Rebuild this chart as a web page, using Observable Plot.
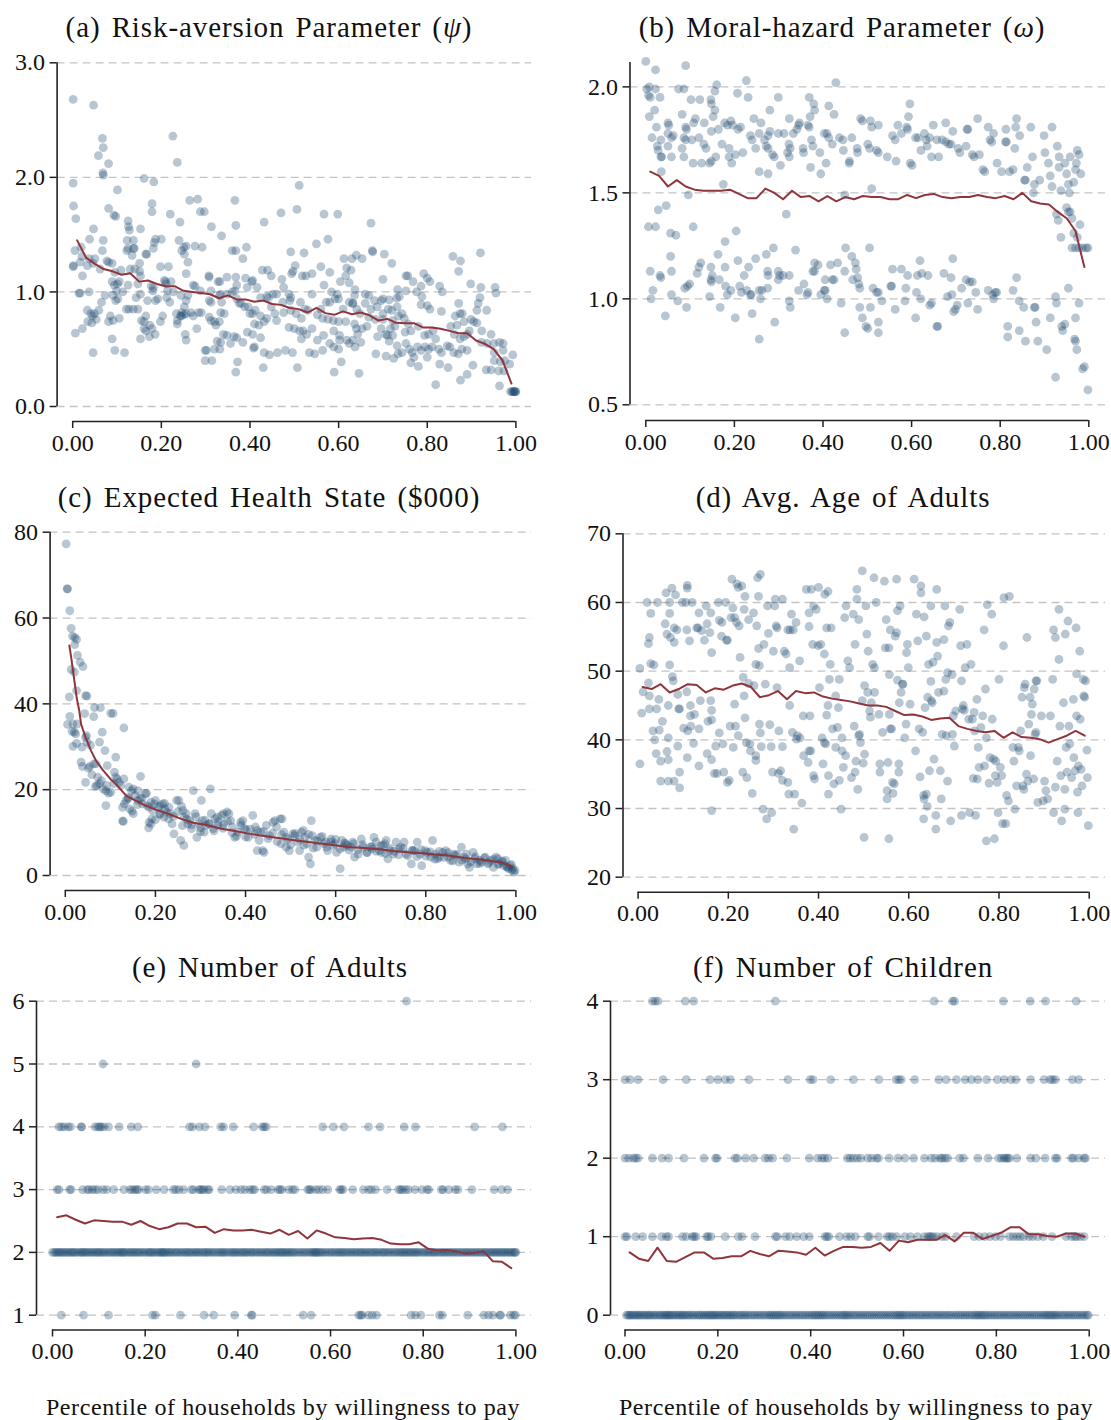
<!DOCTYPE html>
<html><head><meta charset="utf-8">
<script src="https://cdn.jsdelivr.net/npm/d3@7"></script>
<script src="https://cdn.jsdelivr.net/npm/@observablehq/plot@0.6"></script>
<style>
body{margin:0;background:#fff;}
#page{position:relative;width:1111px;height:1420px;font-family:"Liberation Serif",serif;color:#111;}
#page svg, #page svg text{font-family:"Liberation Serif",serif !important;}
.title{position:absolute;font-size:29px;letter-spacing:0.9px;word-spacing:3px;transform:translate(-50%,-50%);white-space:nowrap;}
.xlab{position:absolute;font-size:24px;letter-spacing:0.6px;transform:translate(-50%,-50%);white-space:nowrap;}
</style></head>
<body><div id="page"></div>
<script>
// ---------- DATA ----------
const xTicks = [0, 0.2, 0.4, 0.6, 0.8, 1];
const binX = [.01,.03,.05,.07,.09,.11,.13,.15,.17,.19,.21,.23,.25,.27,.29,.31,.33,.35,.37,.39,.41,.43,.45,.47,.49,.51,.53,.55,.57,.59,.61,.63,.65,.67,.69,.71,.73,.75,.77,.79,.81,.83,.85,.87,.89,.91,.93,.95,.97,.99];

// (a) risk aversion
const riskLine = [1.45,1.30,1.245,1.20,1.18,1.15,1.163,1.09,1.10,1.07,1.05,1.05,1.01,1.0,0.99,0.98,0.945,0.97,0.935,0.935,0.915,0.925,0.895,0.887,0.86,0.85,0.82,0.86,0.815,0.80,0.83,0.805,0.82,0.795,0.75,0.765,0.73,0.727,0.727,0.69,0.69,0.678,0.66,0.64,0.64,0.576,0.547,0.50,0.40,0.20];
const riskPts = [[.001,2.68],[.047,2.63],[.067,2.34],[.069,2.26],[.058,2.19],[.081,2.12],[.068,2.04],[.069,2.02],[.001,1.95],[.161,1.99],[.183,1.96],[.226,2.36],[.236,2.13],[.101,1.89],[.002,1.75],[.007,1.64],[.081,1.73],[.093,1.67],[.097,1.66],[.179,1.77],[.179,1.70],[.264,1.80],[.282,1.81],[.288,1.70],[.297,1.70],[.22,1.68],[.242,1.61],[.313,1.57],[.336,1.49],[.366,1.80],[.368,1.58],[.432,1.61],[.47,1.69],[.506,1.72],[.511,1.93],[.567,1.68],[.598,1.68],[.673,1.60],[.858,1.31],[.875,1.27],[.871,1.18],[.92,1.34],[.898,1.07],[.921,1.04],[.953,1.04],[.955,.99],[.919,.95],[.915,.90],[.912,.84],[.934,.84],[.899,.76],[.905,.74],[.912,.73],[.923,.66],[.895,.66],[.944,.63],[.922,.56],[.935,.55],[.95,.55],[.963,.56],[.971,.55],[.951,.47],[.971,.49],[.993,.45],[.951,.40],[.965,.39],[.975,.40],[.986,.37],[.961,.31],[.973,.31],[.963,.18],[.933,.32],[.944,.32],[.903,.36],[.89,.28],[.875,.23],[.819,.19],[.847,.34],[.828,.37],[.832,.47],[.845,.53],[.851,.52],[.86,.47],[.87,.46],[.878,.50],[.89,.49],[.874,.59],[.883,.61],[.861,.63],[.89,.63],[.853,.70],[.867,.71],[.883,.74],[.863,.79],[.874,.81],[.879,.81],[.871,.90],[.832,.83],[.828,1.05],[.834,1.0],[.806,1.09],[.8,1.12],[.792,1.16],[.786,1.05],[.768,1.09],[.752,1.14],[.756,1.14],[.776,1.0],[.788,.96],[.786,.89],[.8,.88],[.806,.85],[.752,1.01],[.733,1.02],[.737,.96],[.714,.93],[.696,.925],[.70,1.11],[.72,1.25],[.703,1.33],[.676,1.36],[.677,1.35],[.653,1.29],[.64,1.32],[.612,1.29],[.63,1.29],[.618,1.21],[.628,1.19],[.632,.90],[.641,.85],[.66,.90],[.673,.85],[.668,.78],[.683,.76],[.648,.81],[.636,.72],[.653,.68],[.643,.63],[.65,.56],[.632,.58],[.618,.58],[.602,.58],[.602,.62],[.589,.66],[.589,.52],[.6,.50],[.606,.39],[.59,.30],[.646,.29],[.664,.70],[.684,.46],[.707,.44],[.714,.57],[.722,.62],[.71,.62],[.717,.68],[.727,.70],[.722,.75],[.735,.79],[.743,.81],[.748,.77],[.732,.53],[.734,.46],[.724,.42],[.743,.47],[.752,.55],[.76,.50],[.766,.47],[.77,.43],[.78,.35],[.763,.38],[.778,.52],[.786,.49],[.795,.52],[.803,.50],[.803,.63],[.813,.66],[.819,.59],[.794,.62],[.78,.70],[.763,.66],[.75,.65],[.757,.72],[.8,.43],[.826,.50],[.811,.52],
[.54,.98],[.514,.91],[.524,.85],[.531,.84],[.504,.81],[.516,.77],[.492,.84],[.49,.925],[.474,.91],[.476,.82],[.488,.69],[.5,.68],[.512,.66],[.52,.66],[.528,.63],[.54,.68],[.552,.58],[.566,.62],[.516,.59],[.534,.47],[.507,.34],[.496,.47],[.48,.49],[.462,.47],[.444,.45],[.43,.34],[.432,.47],[.41,.52],[.408,.51],[.424,.60],[.406,.63],[.394,.65],[.384,.56],[.37,.60],[.364,.61],[.372,.39],[.368,.30],[.348,.62],[.356,.55],[.334,.56],[.32,.50],[.332,.50],[.299,.49],[.299,.40],[.314,.40],[.326,.57],[.34,.63],[.323,.71],[.331,.74],[.334,.82],[.342,.81],[.336,.91],[.312,.91],[.331,.97],[.334,.98],[.348,.98],[.328,1.09],[.332,1.09],[.348,1.13],[.36,1.0],[.366,1.01],[.37,.94],[.376,.90],[.38,.90],[.388,.87],[.396,.87],[.4,.81],[.406,.81],[.412,.84],[.424,.79],[.438,.77],[.432,.74],[.42,.71],[.41,.72],[.456,.81],[.46,.75],[.448,.87],[.442,.95],[.438,.96],[.452,.98],[.424,.95],[.416,1.04],[.404,1.09],[.406,1.10],[.394,1.04],[.39,1.12],[.37,1.06],[.368,1.13],[.384,1.29],[.392,1.39],[.368,1.36],[.36,1.36],[.428,1.19],[.44,1.19],[.448,1.14],[.46,.98],[.476,1.04],[.488,.98],[.492,.95],[.472,1.11],[.494,1.16],[.497,1.18],[.502,1.23],[.492,1.35],[.522,1.34],[.518,1.14],[.526,1.14],[.54,1.16],[.55,1.42],[.576,1.46],[.56,1.22],[.58,1.17],[.567,1.06],[.584,1.0],[.592,.94],[.6,.94],[.572,.91],[.58,.91],[.56,.85],[.552,.80],[.564,.77],[.576,.76],[.588,.75],[.6,.74],[.61,.85],[.624,.91],[.632,.90],[.636,.97],[.637,1.02],[.624,1.08],[.597,.98],[.604,1.09],[.616,1.14],[.66,.98],[.668,.97],[.681,.925],[.687,.87],[.70,.94],[.712,.85],[.72,.84],[.732,.87],[.731,.945],[.70,.81],[.70,.76],[.696,.68],[.688,.61],[.706,.63],[.64,.68],[.616,.74],[.624,.55],[.637,.52],[.564,.49],[.58,.55],[.546,.46],
[.001,1.22],[.002,1.23],[.006,.64],[.005,1.36],[.017,1.26],[.021,1.31],[.022,1.14],[.019,1.39],[.033,1.23],[.037,1.29],[.038,1.46],[.047,1.55],[.046,1.25],[.05,1.29],[.022,.68],[.014,.99],[.017,.99],[.037,1.0],[.033,.84],[.041,.81],[.045,.79],[.049,.81],[.034,.74],[.043,.73],[.053,.76],[.046,.47],[.059,.84],[.065,.91],[.073,.97],[.062,1.20],[.067,1.36],[.069,1.45],[.077,1.27],[.081,1.26],[.089,1.25],[.095,1.17],[.089,1.09],[.094,1.06],[.101,1.07],[.099,1.01],[.091,.97],[.097,.925],[.102,.94],[.085,.79],[.081,.74],[.091,.75],[.105,.77],[.089,.59],[.095,.49],[.117,.47],[.113,1.0],[.105,1.09],[.109,1.19],[.122,1.36],[.125,1.38],[.123,1.45],[.125,1.62],[.126,1.57],[.128,1.54],[.137,1.45],[.137,1.38],[.139,1.38],[.134,1.32],[.13,1.20],[.14,1.20],[.125,1.06],[.121,.85],[.127,.85],[.137,.85],[.143,.95],[.147,.85],[.147,1.07],[.151,1.18],[.153,1.14],[.151,1.25],[.153,1.55],[.153,.98],[.155,.75],[.161,.74],[.153,.59],[.161,.68],[.165,.66],[.165,1.33],[.167,1.33],[.165,.79],[.173,.61],[.174,.71],[.169,.925],[.177,1.05],[.182,1.04],[.181,1.01],[.187,.925],[.192,.94],[.179,.68],[.186,.63],[.187,1.46],[.182,1.38],[.184,1.43],[.198,1.22],[.2,1.46],[.198,.74],[.203,.79],[.207,1.10],[.209,1.09],[.211,1.07],[.214,1.01],[.216,1.22],[.219,.91],[.212,.95],[.222,1.09],[.227,1.0],[.234,.81],[.236,.75],[.236,.72],[.24,1.45],[.246,1.36],[.251,1.39],[.256,1.40],[.252,1.33],[.244,.97],[.246,.82],[.243,.79],[.245,.79],[.251,.80],[.256,.81],[.256,.925],[.26,.97],[.252,.87],[.254,.63],[.256,.58],[.256,1.16],[.26,1.26],[.272,1.06],[.276,1.05],[.267,.82],[.272,.79],[.28,.68],[.284,.82],[.29,.82],[.288,1.01],[.276,1.40],[.292,1.39],[.307,1.14],[.308,1.13],[.312,1.01],[.308,.925],[.312,.75],[.32,.74],[.308,.78],[.302,.49],
[.988,.13],[.991,.13],[.994,.13],[.997,.13],[1,.13],[.999,.13],[.996,.13]];

// (b) moral hazard
const hazardLine = [1.60,1.58,1.53,1.56,1.53,1.515,1.51,1.51,1.51,1.515,1.495,1.475,1.475,1.52,1.50,1.47,1.51,1.48,1.485,1.46,1.485,1.46,1.48,1.47,1.485,1.48,1.48,1.47,1.47,1.49,1.475,1.49,1.495,1.48,1.475,1.48,1.48,1.49,1.48,1.475,1.485,1.47,1.50,1.46,1.45,1.445,1.41,1.38,1.32,1.15];
const hazardPts = [[0,2.12],[.002,1.99],[.006,1.96],[.008,2.0],[.022,2.08],[.022,1.99],[.01,1.95],[.032,1.95],[.02,1.89],[.008,1.86],[.014,1.76],[.024,1.81],[.026,1.72],[.028,1.70],[.034,1.75],[.034,1.67],[.036,1.67],[.035,1.60],[.05,1.83],[.052,1.82],[.05,1.78],[.05,1.72],[.058,1.76],[.062,1.77],[.058,1.67],[.074,1.99],[.086,1.99],[.09,2.10],[.082,1.87],[.09,1.81],[.092,1.80],[.086,1.76],[.09,1.75],[.082,1.71],[.086,1.67],[.102,1.94],[.108,1.83],[.112,1.85],[.104,1.75],[.107,1.64],[.122,1.94],[.12,1.76],[.126,1.64],[.131,1.73],[.136,1.71],[.132,1.83],[.147,1.94],[.148,1.92],[.152,1.86],[.156,1.89],[.16,2.01],[.156,1.98],[.148,1.79],[.144,1.64],[.148,1.65],[.158,1.67],[.164,1.80],[.172,1.73],[.178,1.83],[.184,1.82],[.192,1.84],[.196,1.82],[.188,1.71],[.188,1.67],[.194,1.64],[.202,1.68],[.207,1.97],[.208,1.80],[.214,1.81],[.219,1.69],[.227,2.03],[.231,1.95],[.236,1.77],[.24,1.75],[.244,1.85],[.248,1.71],[.256,1.78],[.256,1.60],[.26,1.83],[.268,1.75],[.272,1.72],[.276,1.59],[.28,1.89],[.276,1.77],[.28,1.79],[.276,1.71],[.286,1.68],[.29,1.67],[.299,1.95],[.299,1.78],[.304,1.63],[.312,1.78],[.32,1.69],[.324,1.67],[.323,1.73],[.326,1.71],[.324,1.85],[.333,1.78],[.341,1.80],[.345,1.82],[.347,1.83],[.355,1.71],[.356,1.69],[.366,1.82],[.369,1.81],[.369,1.95],[.371,1.86],[.374,1.75],[.377,1.72],[.379,1.92],[.381,1.89],[.372,1.62],[.393,1.69],[.395,1.59],[.403,1.78],[.409,1.78],[.407,1.64],[.413,1.76],[.413,1.91],[.421,1.73],[.429,2.02],[.425,1.87],[.437,1.76],[.445,1.75],[.446,1.70],[.459,1.64],[.46,1.65],[.465,1.76],[.477,1.71],[.478,1.69],[.485,1.85],[.489,1.84],[.501,1.73],[.505,1.71],[.507,1.84],[.51,1.81],[.521,1.70],[.525,1.69],[.525,1.82],[.545,1.67],[.557,1.77],[.563,1.75],[.569,1.82],[.565,1.65],[.577,1.78],[.589,1.81],[.591,1.80],[.593,1.86],[.596,1.92],[.597,1.64],[.601,1.63],[.609,1.76],[.615,1.76],[.621,1.70],[.629,1.78],[.633,1.75],[.635,1.72],[.641,1.76],[.649,1.82],[.645,1.67],[.657,1.75],[.661,1.67],[.669,1.75],[.677,1.74],[.677,1.83],[.684,1.73],[.689,1.73],[.693,1.79],[.705,1.71],[.709,1.69],[.723,1.72],[.725,1.80],[.727,1.80],[.737,1.68],[.741,1.67],[.749,1.85],[.753,1.68],[.761,1.61],[.765,1.60],[.773,1.81],[.777,1.75],[.781,1.74],[.785,1.78],[.793,1.64],[.803,1.60],[.813,1.80],[.812,1.74],[.814,1.74],[.821,1.60],[.829,1.61],[.837,1.85],[.835,1.81],[.833,1.71],[.844,1.77],[.855,1.56],[.857,1.56],[.861,1.62],[.869,1.81],[.873,1.67],[.877,1.54],[.875,1.50],[.889,1.56],[.901,1.69],[.899,1.77],[.913,1.58],[.917,1.53],[.909,1.64],[.917,1.81],[.929,1.72],[.933,1.67],[.933,1.62],[.937,1.51],[.946,1.64],[.95,1.59],[.954,1.54],[.956,1.50],[.958,1.67],[.966,1.55],[.97,1.61],[.972,1.64],[.974,1.70],[.978,1.68],[.982,1.59],
[.927,1.40],[.931,1.37],[.937,1.29],[.95,1.43],[.954,1.41],[.958,1.41],[.962,1.38],[.966,1.31],[.974,1.29],[.98,1.35],[.962,1.24],[.97,1.24],[.978,1.24],[.986,1.24],[.994,1.24],[.998,1.24],
[.317,1.40],[.175,1.54],[.046,1.44],[.028,1.42],[.096,1.49],[.006,1.34],[.022,1.34],[.056,1.31],[.068,1.30],[.107,1.34],[.204,1.32],[.449,1.49],[.51,1.52],
[.056,1.20],[.179,1.27],[.163,1.21],[.124,1.17],[.12,1.15],[.116,1.12],[.01,1.13],[.032,1.11],[.034,1.10],[.058,1.13],[.094,1.06],[.099,1.07],[.088,1.05],[.016,1.04],[.012,1.0],[.058,1.02],[.072,.99],[.092,.96],[.044,.92],[.147,1.15],[.147,1.09],[.148,1.08],[.144,1.01],[.15,1.11],[.166,1.09],[.168,.96],[.179,1.15],[.18,1.06],[.184,1.02],[.192,1.04],[.202,.91],[.208,1.18],[.212,1.06],[.216,1.03],[.222,1.11],[.228,1.04],[.232,1.15],[.236,1.02],[.238,1.02],[.24,.93],[.248,1.19],[.256,1.04],[.262,1.04],[.259,1.0],[.256,.81],[.275,1.13],[.276,1.11],[.275,1.05],[.272,1.21],[.288,1.24],[.291,.89],[.299,1.13],[.302,1.11],[.299,1.09],[.31,1.11],[.324,1.11],[.324,.99],[.326,.96],[.338,1.23],[.345,1.04],[.357,1.07],[.364,1.02],[.366,1.03],[.377,1.13],[.381,1.13],[.381,1.17],[.389,1.16],[.395,1.02],[.403,1.04],[.405,1.04],[.409,1.0],[.405,1.09],[.417,1.16],[.421,1.09],[.425,1.09],[.433,1.17],[.441,.98],[.449,1.13],[.451,1.24],[.449,.84],[.465,1.20],[.467,1.09],[.473,1.17],[.475,1.14],[.478,1.10],[.481,1.07],[.483,1.05],[.483,.96],[.489,.91],[.497,.87],[.501,.86],[.505,1.24],[.507,.96],[.513,1.05],[.521,1.03],[.525,1.03],[.525,.89],[.525,.84],[.533,.99],[.553,1.06],[.555,1.06],[.557,1.14],[.563,.95],[.585,.99],[.587,1.05],[.591,1.11],[.577,1.14],[.611,1.03],[.613,1.11],[.619,1.18],[.621,1.0],[.637,1.11],[.641,.97],[.645,.98],[.623,1.12],[.609,.91],[.657,.87],[.659,.87],[.673,1.12],[.681,1.01],[.689,1.10],[.691,1.02],[.693,1.19],[.695,.94],[.699,.95],[.703,.97],[.713,1.05],[.723,1.09],[.727,.98],[.731,1.08],[.737,1.08],[.745,1.03],[.749,.95],[.773,1.04],[.783,1.02],[.785,1.0],[.789,1.03],[.792,1.03],[.817,.87],[.817,.82],[.829,1.04],[.837,1.10],[.843,.85],[.843,.99],[.853,.96],[.857,.80],[.877,.96],[.879,.96],[.881,.89],[.885,.80],[.905,.76],[.913,.91],[.925,1.01],[.925,.63],[.927,.98],[.939,.87],[.941,.85],[.946,.88],[.954,1.05],[.97,.91],[.968,.81],[.97,.80],[.973,.76],[.978,.98],[.986,.67],[.99,.68],[.998,.57]];

// (c) expected health state
const healthLineX = [.009,.013,.017,.021,.025,.031,.035,.045,.057,.068,.084,.1,.115,.135,.155,.178,.202,.229,.257,.284,.316,.347,.379,.41,.441,.477,.508,.54,.571,.603,.634,.665,.697,.728,.76,.791,.822,.854,.885,.917,.948,.972,.991];
const healthLineY = [53.6,50.9,47.8,44.7,41.6,38.4,35.3,32.2,29.1,26.8,24.5,22.5,21.0,18.6,17.5,16.3,15.3,14.4,13.2,12.3,11.7,10.9,10.3,9.7,9.2,8.7,8.2,7.8,7.4,7.0,6.6,6.4,6.1,5.7,5.4,5.2,4.9,4.6,4.1,3.8,3.3,2.9,2.1];
const healthPts = [[.002,77.3],[.004,66.8],[.005,66.8],[.01,61.7],[.013,57.6],[.016,55.8],[.021,55.5],[.025,55],[.021,53.8],[.027,51.3],[.033,49.7],[.039,48.7],[.013,48],[.02,47.4],[.025,43.1],[.009,41.6],[.045,41.9],[.048,41.8],[.043,37.7],[.065,39.1],[.078,39.1],[.063,37],[.101,37.8],[.106,37.8],[.005,35.2],[.01,37.1],[.017,35.3],[.026,35.3],[.015,33.6],[.02,33.4],[.023,33.0],[.082,33.4],[.13,34.4],[.017,30.1],[.025,30.8],[.037,29.9],[.045,32.2],[.047,32.6],[.048,31.1],[.056,30.4],[.076,31.1],[.088,29.1],[.035,26.4],[.038,25.4],[.051,25],[.054,25.4],[.063,26],[.068,26],[.059,23.5],[.045,21.7],[.072,22.9],[.067,20.7],[.07,21],[.076,21.4],[.08,22.1],[.093,25.6],[.112,27.6],[.084,20.2],[.09,19.7],[.092,21],[.096,19.2],[.101,19.4],[.09,16.3],[.109,24.1],[.112,22.9],[.115,22.5],[.108,21.4],[.119,21.7],[.123,21],[.13,22.5],[.167,23.1],[.127,12.7],[.129,12.6],[.131,16.7],[.135,17.5],[.139,17.9],[.127,15.9],[.143,15.5],[.148,15],[.151,14.4],[.141,20.6],[.147,19.8],[.151,20.2],[.155,18.6],[.161,17.5],[.166,17.9],[.161,19.8],[.171,16.7],[.178,19],[.18,19.2],[.182,16.3],[.186,15.9],[.186,12.4],[.19,12],[.185,11.1],[.192,13.2],[.194,15.1],[.198,16.7],[.2,17.5],[.206,15.9],[.211,16.3],[.21,14.4],[.216,16.7],[.219,13.6],[.221,15.5],[.225,14.8],[.229,13.2],[.233,14.4],[.237,12],[.241,9.7],[.247,17.5],[.252,17.5],[.258,16.1],[.261,15.1],[.256,8.2],[.263,7],[.264,13.6],[.268,14.4],[.272,12],[.276,12.8],[.284,19.8],[.28,10.9],[.288,14.4],[.292,8.9],[.296,12],[.3,11.1],[.304,12.8],[.302,17.5],[.308,10.1],[.312,11.7],[.318,12],[.322,20.2],[.324,14.4],[.328,10.9],[.332,13.2],[.337,13.6],[.339,11.7],[.347,14],[.351,14.4],[.351,12],[.359,14.8],[.363,14.4],[.367,12.8],[.371,11.3],[.376,8.9],[.383,10.1],[.389,12.4],[.394,12.8],[.398,10.9],[.402,10.6],[.406,8.9],[.416,14],[.422,11.3],[.426,10.5],[.426,5.8],[.434,10.1],[.438,5.8],[.441,5.4],[.446,11.7],[.453,9.3],[.461,12.4],[.465,12.8],[.469,11.3],[.477,13.2],[.481,13.2],[.479,7.4],[.485,10.1],[.49,6.6],[.494,8.5],[.497,5.8],[.505,9.7],[.509,9.3],[.516,7.8],[.52,5.8],[.524,10.1],[.528,10.5],[.532,8.9],[.536,7.4],[.54,4.3],[.544,2.7],[.546,12.8],[.548,9.3],[.554,8.2],[.558,6.6],[.566,8.9],[.574,7.4],[.578,7.8],[.582,5.8],[.59,8.5],[.594,7],[.598,7.4],[.602,5.4],[.61,1.6],[.614,8.2],[.618,6.6],[.622,7.4],[.626,7],[.634,6.6],[.638,7.8],[.642,4.3],[.65,5],[.657,8.5],[.661,6.6],[.669,5.4],[.677,6.6],[.681,6.2],[.685,8.9],[.69,7.8],[.697,5.8],[.701,5.4],[.705,7],[.709,7.4],[.712,8.2],[.716,3.9],[.72,5.8],[.728,5],[.734,7.8],[.74,6.2],[.744,6.6],[.752,7.8],[.756,5],[.768,2.7],[.771,5.8],[.775,5.8],[.781,7.8],[.787,5],[.791,2.3],[.799,5.8],[.803,5.4],[.811,4.3],[.815,8.2],[.821,5],[.826,3.9],[.83,4.3],[.838,5.4],[.844,5.8],[.85,4.3],[.855,3.5],[.862,5],[.866,4.7],[.874,3.1],[.879,6.6],[.885,4.3],[.889,3.9],[.893,2.7],[.897,1.9],[.905,5.4],[.909,3.9],[.913,2.7],[.92,3.5],[.924,3.1],[.932,4.3],[.938,2.7],[.944,3.5],[.95,1.9],[.956,4.3],[.96,3.9],[.963,2.7],[.97,3.1],[.973,2.3],[.977,3.5],[.981,1.9],[.984,1.6],[.987,2.3],[.991,1.2],[.993,1.6],[.996,.8],[.998,1.2],
[.14,18.2],[.16,16.5],[.17,18.0],[.19,17.1],[.2,13.0],[.21,14.2],[.22,16.8],[.23,15.9],[.24,13.8],[.25,14.9],[.26,11.6],[.27,13.1],[.28,11.8],[.29,13.7],[.30,10.2],[.31,12.9],[.32,12.1],[.33,10.4],[.34,12.5],[.35,11.0],[.36,12.6],[.37,10.0],[.38,9.2],[.39,11.7],[.40,9.0],[.41,10.8],[.42,9.6],[.43,8.2],[.44,10.3],[.45,8.6],[.46,9.9],[.47,7.9],[.48,9.5],[.49,8.9],[.50,7.2],[.51,9.8],[.52,8.4],[.53,7.1],[.54,9.6],[.55,6.4],[.56,8.0],[.57,9.1],[.58,6.6],[.59,7.9],[.60,8.4],[.61,6.2],[.62,7.6],[.63,5.9],[.64,7.4],[.65,6.0],[.66,7.2],[.67,5.3],[.68,6.8],[.69,5.6],[.70,6.9],[.71,5.1],[.72,6.4],[.73,5.6],[.74,4.8],[.75,6.3],[.76,4.6],[.77,5.9],[.78,4.4],[.79,6.0],[.80,4.5],[.81,5.5],[.82,3.8],[.83,5.6],[.84,4.2],[.85,5.3],[.86,3.4],[.87,4.9],[.88,3.6],[.89,5.0],[.90,3.2],[.91,4.4],[.92,2.8],[.93,4.1],[.94,3.0],[.95,3.8],[.96,2.6],[.97,3.4],[.98,2.0],[.99,2.6]];

// (d) average age of adults
const ageLine = [47.7,47.4,48.1,46.9,47.4,48.1,48.0,46.9,47.5,47.3,47.9,48.2,47.7,46.2,46.5,47.1,45.9,47.1,46.8,46.9,46.3,46.0,45.8,45.6,45.3,45.0,45.0,44.8,44.2,43.6,43.7,43.4,42.9,43.1,43.2,42.0,41.6,41.3,41.1,41.3,40.3,41.1,40.4,40.3,40.1,39.6,40.1,40.6,41.3,40.6];
const agePts = [[.004,50.4],[.008,43.9],[.004,36.5],[.011,47],[.02,60],[.023,54],[.025,54.9],[.023,48.3],[.028,51.1],[.025,46.4],[.025,44.5],[.028,58.4],[.033,41.3],[.035,50.9],[.037,40],[.04,38],[.041,44.5],[.043,60],[.046,45.9],[.047,41.4],[.05,36.9],[.05,34.0],[.054,42.7],[.06,56.9],[.062,61.4],[.064,55.4],[.064,38.3],[.067,45],[.067,40.3],[.067,37.1],[.067,34],[.07,50.9],[.07,58.4],[.07,60],[.072,54.9],[.075,62.1],[.076,49.2],[.078,48.6],[.08,56.3],[.08,54.2],[.08,34],[.083,61.1],[.086,56],[.088,46.6],[.09,44.5],[.092,44.5],[.088,39.1],[.092,35.3],[.092,33],[.098,60],[.101,41.7],[.106,60],[.109,62.5],[.109,62.1],[.108,56],[.108,47],[.11,41.3],[.109,37.4],[.114,54.4],[.116,45],[.116,43.5],[.117,42],[.12,60],[.123,39.5],[.125,43.7],[.13,56.3],[.133,56.3],[.135,58.5],[.135,41.6],[.135,36.2],[.138,45.7],[.141,55.9],[.147,54.5],[.151,59.5],[.153,56.9],[.153,38],[.155,42.7],[.159,55.6],[.161,58.5],[.161,45.7],[.163,29.7],[.163,52.7],[.163,44.3],[.163,42.9],[.163,37.1],[.169,35.1],[.172,39.1],[.175,35.1],[.178,60],[.18,57.4],[.18,41],[.185,55.1],[.186,57.1],[.188,39.4],[.19,35.3],[.194,60],[.196,54.5],[.198,54.5],[.198,33.8],[.202,34.1],[.204,42],[.206,57.8],[.208,63.4],[.21,59.2],[.211,38.9],[.214,57.8],[.214,45.2],[.216,42],[.218,57.1],[.219,62.7],[.222,62.2],[.222,40.6],[.224,56.6],[.226,52],[.23,62.4],[.232,35.3],[.233,49.1],[.235,46.4],[.235,59],[.237,60.9],[.237,43.2],[.24,39.6],[.241,34.5],[.245,57.5],[.245,48.2],[.248,39.4],[.249,38.4],[.253,32.2],[.256,58.5],[.257,47.9],[.261,51],[.261,37.7],[.261,37],[.263,56.6],[.265,63.6],[.267,60.9],[.267,53.3],[.269,50.8],[.269,42.3],[.271,41],[.271,64.1],[.273,39],[.277,29.9],[.279,53.9],[.282,48.1],[.285,28.5],[.287,59.5],[.289,55.5],[.292,42.2],[.295,39],[.296,29.4],[.298,35.3],[.3,52.9],[.303,59.5],[.304,60.5],[.306,56.6],[.308,56.3],[.308,47.6],[.311,35.1],[.312,41.3],[.316,35.5],[.32,60.5],[.32,39],[.32,34.1],[.324,52.9],[.328,52.5],[.332,56],[.332,33.8],[.334,32.1],[.336,50.5],[.336,45],[.337,56],[.34,58.3],[.342,41.1],[.344,56],[.345,27],[.347,32.1],[.35,57.1],[.351,40.1],[.353,40.6],[.358,51.5],[.359,40.3],[.363,30.8],[.366,43.5],[.367,37.7],[.373,61.9],[.377,36.7],[.379,38.4],[.379,58.5],[.379,56.5],[.381,43.5],[.383,38.4],[.384,61.9],[.387,53.9],[.389,59.5],[.389,34.8],[.391,34.3],[.395,59],[.399,53.7],[.4,62.2],[.402,47.6],[.405,53.9],[.408,40.3],[.41,36.5],[.413,52.5],[.413,39.6],[.414,61.2],[.416,39.4],[.418,56.3],[.418,43.6],[.421,45],[.421,61.6],[.422,34.8],[.422,32.1],[.424,48.8],[.426,51],[.428,56.3],[.431,41.6],[.434,33.6],[.438,46.4],[.438,38.9],[.442,41.8],[.444,44.7],[.446,34.1],[.446,48.8],[.45,29.9],[.452,40.3],[.452,38.4],[.455,36],[.458,57.8],[.46,37.7],[.461,59.5],[.465,51.5],[.469,50.5],[.473,34.5],[.477,58.3],[.479,42],[.481,53.9],[.481,35.3],[.483,36.9],[.485,61.9],[.485,60.5],[.487,32.8],[.489,57.5],[.489,40.6],[.491,40.8],[.493,39.6],[.497,45.7],[.497,64.6],[.499,36.6],[.501,25.8],[.502,47.9],[.502,37.9],[.505,59.5],[.507,55.4],[.509,46.9],[.51,52.9],[.513,44.2],[.515,43.3],[.517,45.4],[.52,51],[.523,63.6],[.524,50.5],[.524,46.9],[.528,60],[.534,43.7],[.536,36.5],[.536,35.3],[.542,41.1],[.546,63.1],[.548,53.4],[.55,57.5],[.552,32.6],[.552,31.4],[.554,36.7],[.556,53.4],[.556,25.6],[.557,43.7],[.557,49.5],[.559,56],[.559,41.6],[.562,41.6],[.564,33.8],[.565,32.2],[.568,33.6],[.57,55.1],[.573,63.4],[.573,55.6],[.575,58.8],[.575,48.7],[.578,35.3],[.578,36.5],[.579,45.4],[.581,59.5],[.583,46.9],[.586,48.1],[.587,48.1],[.591,40.3],[.594,42.3],[.595,52.7],[.597,53.9],[.599,50.5],[.603,45.2],[.612,63.4],[.615,38.4],[.617,58.3],[.62,54.4],[.623,41.6],[.625,34.6],[.627,62.4],[.627,61.4],[.631,41.1],[.633,28.5],[.633,31.9],[.634,31.4],[.634,57.9],[.636,44.7],[.639,55.1],[.639,32.1],[.641,30.3],[.642,46.2],[.644,51],[.646,35.5],[.649,59.5],[.649,48.5],[.65,45.7],[.652,45.4],[.654,51.3],[.656,37.2],[.66,29],[.66,27],[.662,54.2],[.662,61.9],[.664,52.2],[.666,46.9],[.67,35.5],[.672,31.4],[.674,40.8],[.678,47.1],[.678,54.6],[.68,59.5],[.682,48.8],[.683,40.6],[.686,49.8],[.686,34],[.688,56.6],[.691,57.1],[.693,28.2],[.696,49.5],[.697,40.8],[.699,43.5],[.701,39.1],[.704,44.2],[.713,59],[.715,53.7],[.717,48.6],[.717,29],[.719,44.5],[.721,45],[.723,44.3],[.725,50.5],[.729,53.9],[.733,43],[.735,29.4],[.738,51],[.741,43],[.743,34.4],[.745,44],[.746,41.3],[.748,29],[.751,45.9],[.752,34.3],[.754,38.9],[.756,36],[.76,41.8],[.764,43.5],[.767,56],[.768,36.2],[.77,47.4],[.772,25.3],[.772,40.3],[.774,59.7],[.778,33.7],[.78,37.4],[.784,58.3],[.785,43],[.788,37.2],[.79,25.6],[.792,34.8],[.793,36.9],[.796,33.8],[.798,29.4],[.8,48.8],[.803,36],[.806,34.8],[.808,27.8],[.81,53.7],[.811,60.7],[.815,27.8],[.817,31.9],[.821,31.1],[.823,60.9],[.831,38.9],[.833,36.9],[.835,29.9],[.839,33.3],[.843,38.9],[.845,38.4],[.848,41.3],[.851,46.2],[.853,33.3],[.855,32.8],[.856,47.6],[.858,48.1],[.861,35],[.862,54.9],[.864,34],[.866,42.3],[.869,46.2],[.87,37.7],[.872,43.7],[.874,45.2],[.877,34.3],[.878,47.4],[.88,40.8],[.882,48.6],[.882,41.1],[.884,48.6],[.886,30.9],[.894,43.5],[.898,31.1],[.901,34],[.904,32.6],[.908,31.4],[.914,43.5],[.919,48.8],[.921,56],[.921,29.4],[.925,54.9],[.925,33.1],[.929,36.9],[.933,59],[.933,51.7],[.935,42],[.937,34.8],[.939,28.2],[.943,45.4],[.946,32.8],[.946,29.9],[.947,55.4],[.949,38.9],[.951,35.3],[.953,57.3],[.955,42],[.957,39.4],[.961,34.5],[.965,45.9],[.966,37.4],[.969,35.5],[.971,56.3],[.972,49.6],[.972,43.5],[.974,32.4],[.975,29.4],[.976,36.2],[.979,52.9],[.98,43],[.982,35.7],[.984,33.3],[.987,48.8],[.988,46.4],[.99,46.2],[.992,48.6],[.995,38.5],[.996,34.5],[.998,27.5]];

// (e) number of adults: x positions of households at each count
const adultsLine = [2.56,2.59,2.52,2.46,2.51,2.50,2.49,2.49,2.44,2.50,2.42,2.37,2.40,2.46,2.46,2.40,2.41,2.31,2.37,2.35,2.35,2.36,2.33,2.30,2.36,2.28,2.34,2.22,2.35,2.30,2.24,2.23,2.21,2.22,2.23,2.20,2.14,2.13,2.13,2.16,2.06,2.03,2.04,2.02,1.98,1.99,2.02,1.86,1.85,1.75];
const adults1 = [.019,.067,.121,.216,.222,.276,.327,.348,.393,.429,.431,.541,.558,.661,.665,.668,.682,.69,.699,.774,.783,.795,.835,.841,.896,.931,.941,.95,.965,.967,.988,.995,.999];
const adults2 = [0,.004,.008,.011,.015,.018,.022,.026,.03,.034,.038,.042,.045,.049,.053,.058,.062,.065,.068,.072,.076,.08,.084,.088,.092,.096,.099,.103,.107,.111,.115,.12,.124,.128,.132,.136,.14,.144,.148,.151,.154,.158,.163,.167,.171,.175,.179,.183,.187,.191,.196,.2,.205,.209,.212,.216,.22,.225,.229,.233,.236,.239,.242,.246,.25,.254,.258,.263,.267,.271,.276,.28,.285,.289,.293,.297,.301,.306,.31,.314,.318,.323,.327,.331,.335,.339,.344,.348,.353,.358,.362,.366,.37,.374,.379,.384,.388,.392,.396,.4,.405,.409,.413,.417,.421,.426,.43,.434,.439,.443,.448,.452,.457,.461,.465,.469,.474,.478,.482,.486,.49,.494,.497,.501,.505,.509,.513,.517,.521,.526,.531,.536,.541,.545,.55,.555,.559,.563,.566,.569,.572,.576,.58,.584,.589,.594,.599,.603,.608,.612,.617,.621,.625,.629,.634,.638,.643,.647,.652,.656,.661,.665,.669,.674,.678,.683,.687,.692,.696,.7,.705,.71,.714,.718,.723,.727,.732,.737,.741,.746,.75,.754,.758,.762,.766,.77,.774,.778,.782,.786,.79,.795,.8,.804,.809,.813,.818,.822,.826,.831,.836,.84,.845,.849,.854,.858,.863,.867,.872,.876,.881,.885,.89,.894,.898,.903,.907,.912,.916,.921,.925,.93,.934,.938,.943,.947,.951,.955,.959,.963,.967,.971,.975,.979,.983,.987,.991,.995,.998,1];
const adults3 = [.01,.014,.037,.04,.065,.075,.079,.086,.092,.098,.109,.117,.132,.154,.167,.172,.178,.182,.186,.201,.207,.224,.241,.261,.266,.273,.283,.3,.304,.316,.319,.323,.327,.335,.338,.365,.383,.396,.407,.415,.426,.432,.436,.457,.462,.472,.487,.491,.495,.51,.518,.523,.551,.554,.558,.568,.575,.583,.594,.62,.623,.627,.648,.671,.682,.688,.697,.722,.747,.751,.755,.762,.768,.782,.797,.808,.812,.839,.843,.855,.869,.875,.905,.953,.969,.982];
const adults4 = [.014,.019,.025,.034,.039,.062,.063,.092,.098,.102,.105,.111,.121,.144,.17,.184,.296,.302,.317,.329,.363,.369,.39,.434,.453,.457,.461,.583,.606,.629,.682,.707,.759,.783,.911,.971];
const adults5 = [.109,.31];
const adults6 = [.764];

// (f) number of children
const kidsLine = [.80,.72,.69,.86,.69,.68,.74,.80,.80,.72,.73,.75,.75,.82,.78,.75,.82,.81,.80,.77,.86,.76,.82,.87,.87,.86,.87,.92,.82,.95,.93,.96,.96,.96,1.02,.94,1.05,1.05,.97,1.01,1.05,1.12,1.12,1.03,1.03,1.01,1.0,1.04,1.04,1.0];
const kids0 = [.003,.007,.01,.013,.017,.021,.025,.028,.032,.036,.04,.044,.048,.052,.055,.06,.064,.068,.073,.077,.081,.085,.088,.092,.095,.098,.102,.106,.11,.114,.118,.122,.125,.129,.133,.137,.141,.146,.15,.155,.159,.163,.167,.171,.175,.179,.183,.186,.19,.193,.197,.201,.205,.209,.213,.217,.221,.225,.229,.233,.237,.242,.247,.251,.256,.26,.265,.27,.275,.28,.285,.29,.295,.3,.305,.31,.314,.318,.322,.326,.33,.334,.338,.343,.348,.353,.358,.363,.368,.373,.378,.383,.388,.393,.398,.403,.407,.411,.415,.419,.423,.427,.431,.436,.441,.446,.451,.456,.461,.466,.47,.474,.478,.482,.487,.492,.497,.502,.507,.512,.517,.522,.527,.532,.537,.542,.547,.552,.557,.562,.567,.572,.577,.582,.586,.59,.594,.598,.602,.607,.612,.617,.622,.627,.632,.637,.642,.647,.652,.657,.662,.667,.672,.677,.682,.687,.692,.697,.702,.708,.713,.718,.723,.728,.733,.738,.743,.748,.753,.757,.761,.765,.769,.773,.777,.782,.787,.792,.797,.802,.807,.812,.817,.822,.827,.832,.837,.842,.847,.852,.857,.862,.867,.872,.877,.882,.887,.892,.897,.902,.906,.91,.914,.918,.922,.926,.93,.935,.94,.945,.95,.955,.96,.965,.97,.975,.98,.985,.99,.995,.998];
const kids1 = [0,.004,.023,.038,.059,.079,.089,.094,.124,.132,.145,.149,.153,.176,.179,.185,.216,.244,.252,.28,.324,.328,.346,.355,.37,.385,.397,.431,.435,.439,.462,.477,.486,.496,.523,.527,.546,.565,.57,.576,.585,.603,.615,.63,.645,.653,.656,.66,.664,.672,.683,.691,.714,.752,.763,.775,.786,.798,.809,.828,.836,.844,.851,.859,.87,.878,.889,.901,.92,.95,.962,.969,.973,.981,.989];
const kids2 = [0,.008,.018,.023,.028,.059,.08,.094,.127,.17,.195,.198,.237,.242,.26,.277,.302,.309,.318,.349,.397,.415,.424,.43,.437,.479,.485,.492,.5,.508,.523,.531,.542,.546,.569,.588,.603,.622,.645,.66,.668,.679,.683,.689,.695,.721,.729,.76,.782,.805,.811,.817,.821,.824,.828,.844,.874,.885,.905,.927,.931,.962,.966,.977,.989,.992];
const kids3 = [0,.011,.028,.082,.132,.183,.2,.216,.227,.267,.351,.399,.405,.443,.492,.547,.584,.59,.595,.624,.676,.692,.714,.733,.746,.76,.779,.802,.817,.832,.842,.874,.903,.916,.921,.927,.964,.977];
const kids4 = [.059,.065,.071,.13,.148,.324,.666,.706,.71,.815,.873,.906,.972];

// ---------- BUILD ----------
const levelPts = (groups) => groups.flatMap(([v, xs]) => xs.map(x => [x, v]));
const adultsPts = levelPts([[1, adults1], [2, adults2], [3, adults3], [4, adults4], [5, adults5], [6, adults6]]);
const kidsPts = levelPts([[0, kids0], [1, kids1], [2, kids2], [3, kids3], [4, kids4]]);
const f1 = d3.format(".1f"), f0 = d3.format("d"), f2 = d3.format(".2f");

const panels = [
  {title: "(a) Risk-aversion Parameter (<i>ψ</i>)", domain: [0, 3], ticks: [0, 1, 2, 3], fmt: f1, pts: riskPts, lx: binX, ly: riskLine,
   L: 0, T: 45, W: 555, H: 425, yAxisX: 56.6, x0: 72.2, x1: 515.4, gridEnd: 531, yTop: 62.3, yBot: 406, xAxisY: 421, tx: 269, ty: 27},
  {title: "(b) Moral-hazard Parameter (<i>ω</i>)", domain: [0.5, 2.115], ticks: [0.5, 1, 1.5, 2], fmt: f1, pts: hazardPts, lx: binX, ly: hazardLine,
   L: 555, T: 45, W: 556, H: 425, yAxisX: 629.5, x0: 645.3, x1: 1088.3, gridEnd: 1105, yTop: 62, yBot: 404.3, xAxisY: 420, tx: 842, ty: 27},
  {title: "(c) Expected Health State ($000)", domain: [0, 80], ticks: [0, 20, 40, 60, 80], fmt: f0, pts: healthPts, lx: healthLineX, ly: healthLineY,
   L: 0, T: 515, W: 555, H: 425, yAxisX: 49.6, x0: 64.8, x1: 515.4, gridEnd: 531, yTop: 531.7, yBot: 875, xAxisY: 890, tx: 269, ty: 497},
  {title: "(d) Avg. Age of Adults", domain: [20, 70], ticks: [20, 30, 40, 50, 60, 70], fmt: f0, pts: agePts, lx: binX, ly: ageLine,
   L: 555, T: 515, W: 556, H: 425, yAxisX: 622.5, x0: 637.6, x1: 1088.7, gridEnd: 1105, yTop: 533.3, yBot: 876.7, xAxisY: 891.7, tx: 843, ty: 497},
  {title: "(e) Number of Adults", domain: [1, 6], ticks: [1, 2, 3, 4, 5, 6], fmt: f0, pts: adultsPts, lx: binX, ly: adultsLine,
   L: 0, T: 985, W: 555, H: 395, yAxisX: 36, x0: 52, x1: 515.4, gridEnd: 531, yTop: 1000.7, yBot: 1314.7, xAxisY: 1329.5, tx: 270, ty: 967, xlab: 283},
  {title: "(f) Number of Children", domain: [0, 4], ticks: [0, 1, 2, 3, 4], fmt: f0, pts: kidsPts, lx: binX, ly: kidsLine,
   L: 555, T: 985, W: 556, H: 395, yAxisX: 610, x0: 624.5, x1: 1088.7, gridEnd: 1105, yTop: 1000.7, yBot: 1314.7, xAxisY: 1329.5, tx: 843, ty: 967, xlab: 856}
];

const page = document.getElementById("page");
for (const p of panels) {
  const lineData = p.lx.map((x, i) => [x, p.ly[i]]);
  const chart = Plot.plot({
    width: p.W, height: p.H,
    marginLeft: p.yAxisX - p.L, marginRight: p.L + p.W - p.gridEnd,
    marginTop: p.yTop - p.T, marginBottom: p.T + p.H - p.xAxisY,
    style: {fontFamily: '"Liberation Serif", serif', fontSize: "24px", color: "#111", background: "transparent", overflow: "visible"},
    x: {domain: [0, 1], range: [p.x0 - p.L, p.x1 - p.L]},
    y: {domain: p.domain, range: [p.yBot - p.T, p.yTop - p.T]},
    marks: [
      Plot.gridY({ticks: p.ticks, stroke: "#c4c4c4", strokeOpacity: 1, strokeWidth: 1.3, strokeDasharray: "8,5"}),
      Plot.dot(p.pts, {x: d => d[0], y: d => d[1], r: 4.4, fill: "#1a476f", fillOpacity: 0.31, stroke: "none"}),
      Plot.line(lineData, {x: d => d[0], y: d => d[1], stroke: "#90353b", strokeWidth: 2}),
      Plot.ruleY([p.domain[0]], {x1: 0, x2: 1, dy: p.xAxisY - p.yBot, stroke: "#222", strokeWidth: 1.6}),
      Plot.ruleX([0], {y1: p.domain[0], y2: p.domain[1], dx: p.yAxisX - p.x0, stroke: "#222", strokeWidth: 1.6}),
      Plot.axisX({ticks: xTicks, tickFormat: f2, tickSize: 7, tickPadding: 5, strokeWidth: 1.5, stroke: "#222", fill: "#111", label: null}),
      Plot.axisY({ticks: p.ticks, tickFormat: p.fmt, tickSize: 7, tickPadding: 5, strokeWidth: 1.5, stroke: "#222", fill: "#111", label: null})
    ]
  });
  chart.style.position = "absolute";
  chart.style.left = p.L + "px";
  chart.style.top = p.T + "px";
  page.appendChild(chart);
  const t = document.createElement("div");
  t.className = "title"; t.innerHTML = p.title;
  t.style.left = p.tx + "px"; t.style.top = p.ty + "px";
  page.appendChild(t);
  if (p.xlab) {
    const xl = document.createElement("div");
    xl.className = "xlab"; xl.textContent = "Percentile of households by willingness to pay";
    xl.style.left = p.xlab + "px"; xl.style.top = "1407px";
    page.appendChild(xl);
  }
}
</script></body></html>
